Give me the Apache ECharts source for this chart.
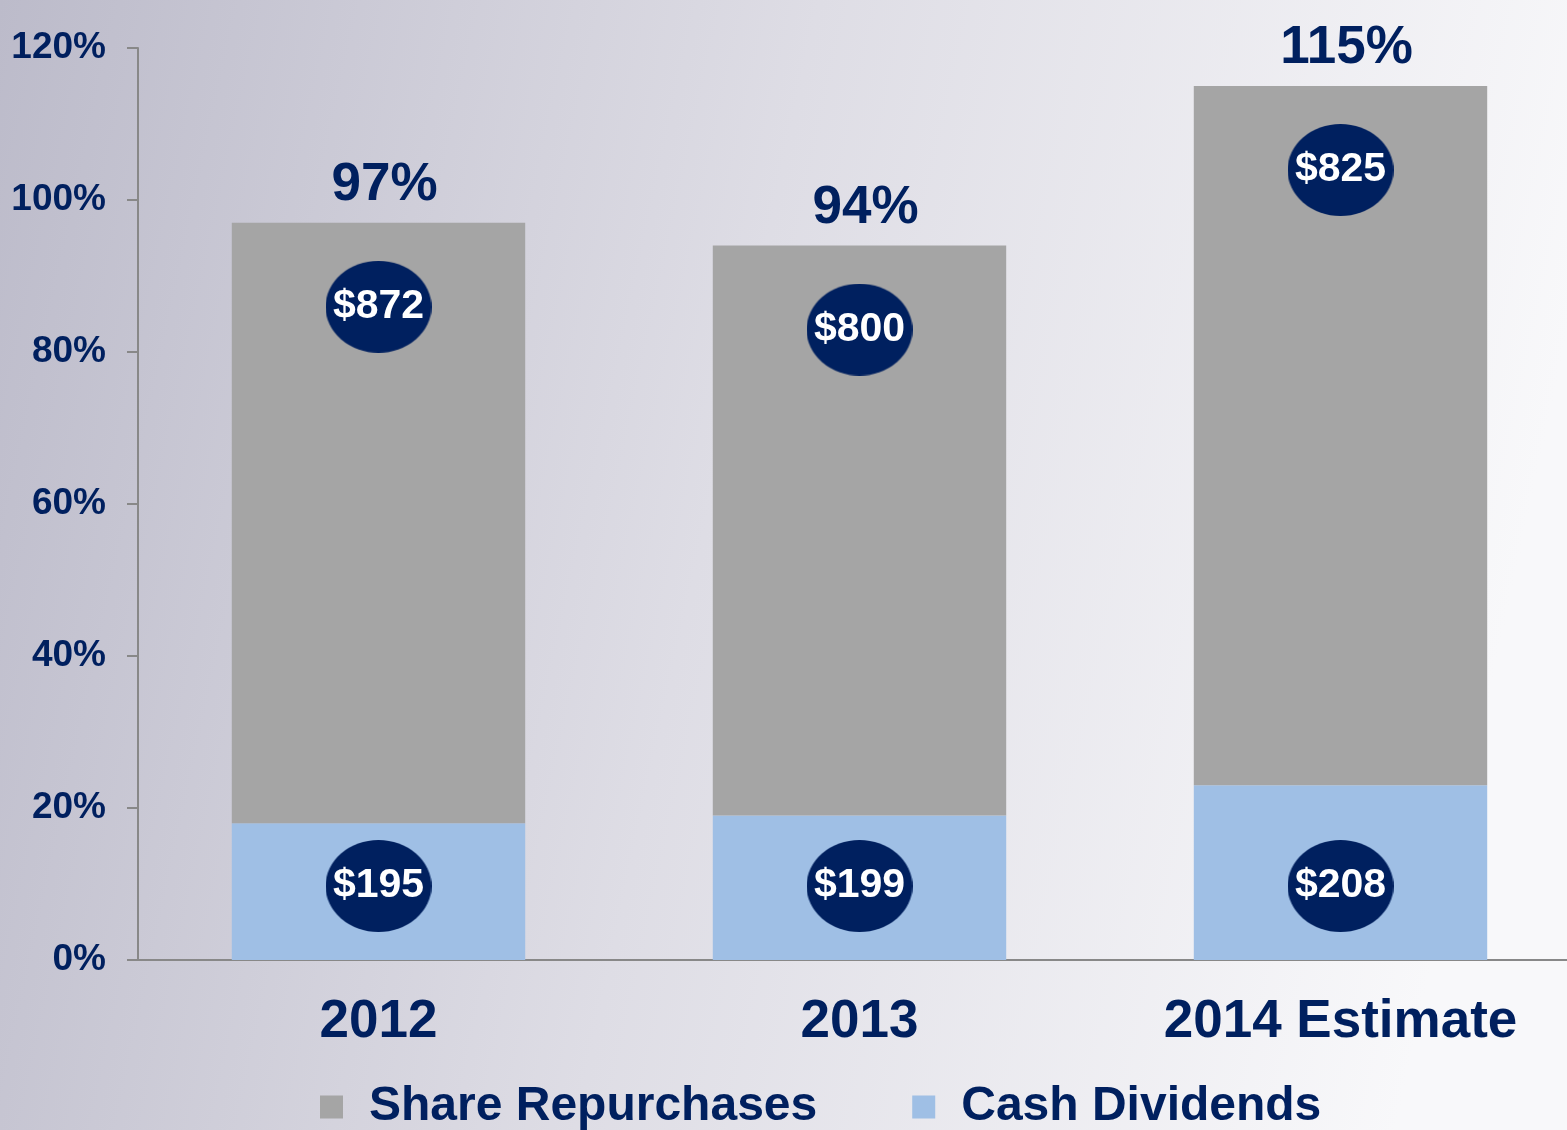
<!DOCTYPE html>
<html>
<head>
<meta charset="utf-8">
<script src="https://cdn.jsdelivr.net/npm/echarts@6/dist/echarts.min.js"></script>
<style>
  html, body { margin: 0; padding: 0; }
  #chart { width: 1567px; height: 1130px; }
</style>
</head>
<body>
<div id="chart"></div>
<script>
// data
var years = ['2012', '2013', '2014 Estimate'];
var dividendsPct = [18, 19, 23];
var repurchasePct = [79, 75, 92];
var totalPct = [97, 94, 115];
var repurchaseAmt = [872, 800, 825];
var dividendsAmt = [195, 199, 208];
var yTicks = [0, 20, 40, 60, 80, 100, 120];

var navy = '#00205f';
var font = '"Liberation Sans", Arial, sans-serif';

// navy ellipse used behind the $ labels
function ellipse(w, h) {
    var c = document.createElement('canvas');
    c.width = w;
    c.height = h;
    var ctx = c.getContext('2d');
    ctx.fillStyle = navy;
    ctx.beginPath();
    ctx.ellipse(w / 2, h / 2, w / 2, h / 2, 0, 0, Math.PI * 2);
    ctx.fill();
    return c;
}
var bubble = ellipse(106, 92);

function bubbleLabel(pos, dist, amounts) {
    return {
        show: true,
        position: pos,
        distance: dist,
        width: 106,
        height: 92,
        lineHeight: 92,
        align: 'center',
        verticalAlign: 'middle',
        backgroundColor: { image: bubble },
        color: '#fff',
        fontFamily: font,
        fontWeight: 'bold',
        fontSize: 41,
        formatter: function (p) { return '$' + amounts[p.dataIndex]; }
    };
}

var chart = echarts.init(document.getElementById('chart'));

var option = {
    backgroundColor: {
        type: 'linear', x: 0, y: 0, x2: 1, y2: 0.3,
        colorStops: [
            { offset: 0, color: '#bcbbca' },
            { offset: 0.5, color: '#dedde5' },
            { offset: 1, color: '#f8f8fa' }
        ]
    },
    animation: false,
    grid: { left: 138, width: 1443, top: 48, bottom: 170, outerBoundsMode: 'none' },
    legend: {
        data: ['Share Repurchases', 'Cash Dividends'],
        left: 315,
        top: 1078,
        icon: 'rect',
        itemWidth: 23,
        itemHeight: 23,
        itemGap: 95,
        textStyle: {
            color: navy,
            fontFamily: font,
            fontWeight: 'bold',
            fontSize: 48,
            lineHeight: 48,
            padding: [0, 0, 0, 21]
        }
    },
    xAxis: {
        type: 'category',
        data: years,
        axisLine: { lineStyle: { color: '#888', width: 2 } },
        axisTick: { length: 15, lineStyle: { color: '#888', width: 2 } },
        axisLabel: {
            margin: 36,
            color: navy,
            fontFamily: font,
            fontWeight: 'bold',
            fontSize: 53,
            lineHeight: 53
        }
    },
    yAxis: {
        type: 'value',
        min: yTicks[0],
        max: yTicks[yTicks.length - 1],
        interval: 20,
        splitLine: { show: false },
        axisLine: { show: true, lineStyle: { color: '#888', width: 2 } },
        axisTick: { show: true, length: 11, lineStyle: { color: '#888', width: 2 } },
        axisLabel: {
            margin: 32,
            color: navy,
            fontFamily: font,
            fontWeight: 'bold',
            fontSize: 37,
            formatter: '{value}%'
        }
    },
    series: [
        {
            name: 'Cash Dividends',
            type: 'bar',
            stack: 'payout',
            barWidth: '61%',
            itemStyle: { color: '#9fbfe5' },
            label: bubbleLabel('insideBottom', 74, dividendsAmt),
            data: dividendsPct
        },
        {
            name: 'Share Repurchases',
            type: 'bar',
            stack: 'payout',
            barWidth: '61%',
            itemStyle: { color: '#a5a5a5' },
            label: bubbleLabel('insideTop', 84, repurchaseAmt),
            data: repurchasePct
        },
        {
            name: 'Total',
            type: 'scatter',
            symbolSize: 0,
            silent: true,
            itemStyle: { opacity: 1 },
            label: {
                show: true,
                position: 'top',
                distance: 11,
                offset: [6, 0],
                opacity: 1,
                color: navy,
                fontFamily: font,
                fontWeight: 'bold',
                fontSize: 53,
                lineHeight: 53,
                formatter: function (p) { return p.value + '%'; }
            },
            data: totalPct
        }
    ]
};

chart.setOption(option);
</script>
</body>
</html>
